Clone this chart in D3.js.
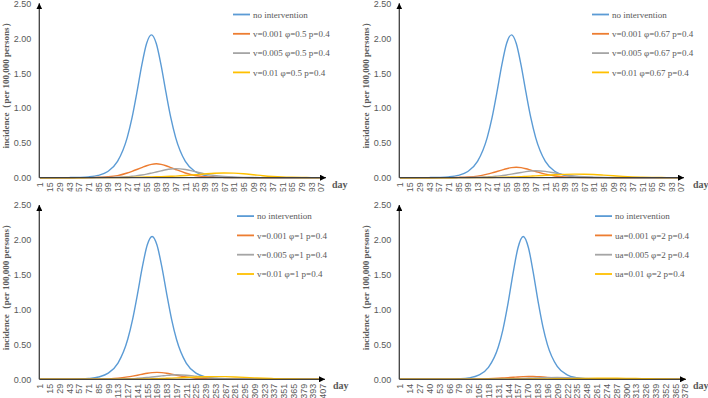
<!DOCTYPE html>
<html><head><meta charset="utf-8"><title>Incidence under vaccination scenarios</title>
<script src="https://cdnjs.cloudflare.com/ajax/libs/d3/7.8.5/d3.min.js"></script>
<style>
    body {
        margin: 0;
        background: #fff;
    }
    svg {
        display: block;
        font-family: 'Liberation Serif', 'Times New Roman', serif;
    }
</style>
</head>
<body>
<svg id="chart" width="708" height="398"></svg>

<script>
// sample days (panels 1-3) and values
const days = [1, 15, 29, 43, 57, 71, 85, 99, 113, 127, 134, 141, 148, 155, 162, 169, 176, 183, 190, 197,
    211, 225, 239, 253, 267, 281, 295, 309, 323, 337, 351, 365, 379, 393, 407];

const noIntervention = [0.0001, 0.0002, 0.0006, 0.0017, 0.0045, 0.012, 0.033, 0.089, 0.233, 0.575,
    0.861, 1.223, 1.612, 1.927, 2.05, 1.927, 1.612, 1.223, 0.861, 0.575,
    0.233, 0.089, 0.033, 0.012, 0.0045, 0.0017, 0.0006, 0.0002, 0.0001, 0, 0, 0, 0, 0, 0];

// phi = 0.5
const p1Low = [0, 0, 0, 0.0002, 0.0005, 0.0012, 0.006, 0.013, 0.03, 0.068,
    0.092, 0.118, 0.145, 0.172, 0.192, 0.2, 0.192, 0.172, 0.145, 0.118,
    0.068, 0.032, 0.015, 0.007, 0.0035, 0.0015, 0.0007, 0.0003, 0.0001, 0, 0, 0, 0, 0, 0];
const p1Mid = [0, 0, 0, 0.0002, 0.0004, 0.001, 0.002, 0.004, 0.008, 0.015,
    0.02, 0.029, 0.039, 0.051, 0.066, 0.082, 0.098, 0.114, 0.125, 0.13,
    0.118, 0.087, 0.055, 0.031, 0.017, 0.009, 0.0045, 0.002, 0.001, 0.0005, 0.0002, 0, 0, 0, 0];
const p1High = [0, 0, 0, 0.0001, 0.0002, 0.0004, 0.0006, 0.0008, 0.0015, 0.003,
    0.0042, 0.0056, 0.0073, 0.0092, 0.0113, 0.0135, 0.0158, 0.0182, 0.0207, 0.0233,
    0.031, 0.042, 0.054, 0.064, 0.068, 0.065, 0.056, 0.043, 0.029, 0.018, 0.010, 0.0055, 0.003, 0.0018, 0.001];

// phi = 0.67
const p2Low = [0, 0, 0, 0.00015, 0.0004, 0.0009, 0.0045, 0.01, 0.023, 0.051,
    0.069, 0.089, 0.109, 0.129, 0.144, 0.15, 0.144, 0.129, 0.109, 0.089,
    0.051, 0.024, 0.011, 0.005, 0.0026, 0.0011, 0.0005, 0.0002, 0.0001, 0, 0, 0, 0, 0, 0];
const p2Mid = [0, 0, 0, 0.00015, 0.0003, 0.0008, 0.0015, 0.003, 0.006, 0.012,
    0.015, 0.022, 0.03, 0.039, 0.051, 0.063, 0.075, 0.088, 0.096, 0.1,
    0.091, 0.067, 0.042, 0.024, 0.013, 0.007, 0.0035, 0.0015, 0.0008, 0.0004, 0.0002, 0, 0, 0, 0];
const p2High = [0, 0, 0, 0.0001, 0.0002, 0.0003, 0.0005, 0.0008, 0.0013, 0.002,
    0.0028, 0.004, 0.0055, 0.0075, 0.0098, 0.0125, 0.0155, 0.019, 0.0225, 0.026,
    0.034, 0.042, 0.048, 0.051, 0.05, 0.045, 0.037, 0.028, 0.019, 0.012, 0.007, 0.004, 0.0022, 0.0012, 0.0008];

// phi = 1
const p3Low = [0, 0, 0, 0.0001, 0.0003, 0.0006, 0.003, 0.0065, 0.015, 0.034,
    0.046, 0.059, 0.073, 0.086, 0.096, 0.1, 0.096, 0.086, 0.073, 0.059,
    0.034, 0.016, 0.0075, 0.0035, 0.0018, 0.0008, 0.0004, 0.0002, 0.0001, 0, 0, 0, 0, 0, 0];
const p3Mid = [0, 0, 0, 0.0001, 0.0002, 0.0005, 0.001, 0.002, 0.004, 0.0075,
    0.01, 0.0145, 0.0195, 0.026, 0.033, 0.041, 0.049, 0.057, 0.0625, 0.065,
    0.059, 0.044, 0.028, 0.016, 0.0085, 0.0045, 0.0022, 0.001, 0.0005, 0.0002, 0.0001, 0, 0, 0, 0];
const p3High = [0, 0, 0, 0, 0.0001, 0.0002, 0.0004, 0.0006, 0.001, 0.0018,
    0.0024, 0.0032, 0.0043, 0.0058, 0.0077, 0.0098, 0.012, 0.0145, 0.017, 0.0198,
    0.026, 0.032, 0.037, 0.039, 0.038, 0.034, 0.028, 0.021, 0.015, 0.01, 0.0062, 0.0038, 0.0022, 0.0012, 0.0008];

// panel 4 has its own day grid
const days4 = [1, 14, 27, 40, 53, 66, 79, 92, 105, 118, 131, 137, 144, 151, 157, 164, 171, 177, 184, 190, 196,
    209, 222, 235, 248, 261, 274, 287, 300, 313, 326, 339, 352, 365, 378];
const noIntervention4 = [0, 0.00003, 0.0001, 0.0003, 0.0008, 0.0023, 0.0069, 0.020, 0.059, 0.170,
    0.463, 0.707, 1.097, 1.55, 1.885, 2.05, 1.885, 1.55, 1.097, 0.757, 0.498,
    0.184, 0.064, 0.022, 0.0075, 0.0025, 0.0009, 0.0003, 0.0001, 0, 0, 0, 0, 0, 0];
const p4Low = [0, 0, 0, 0.0001, 0.0003, 0.0006, 0.0012, 0.0023, 0.0045, 0.0084,
    0.015, 0.019, 0.024, 0.029, 0.034, 0.038, 0.040, 0.040, 0.037, 0.034, 0.028,
    0.018, 0.010, 0.0055, 0.0028, 0.0014, 0.0007, 0.0003, 0.0001, 0, 0, 0, 0, 0, 0];
const p4Mid = [0, 0, 0, 0, 0.0001, 0.0002, 0.0004, 0.0007, 0.0012, 0.002,
    0.0035, 0.0045, 0.0058, 0.0075, 0.0094, 0.0115, 0.0148, 0.017, 0.020, 0.022, 0.024,
    0.025, 0.0217, 0.0165, 0.011, 0.0071, 0.0043, 0.0025, 0.0014, 0.0008, 0.0004, 0.0002, 0.0001, 0, 0];
const p4High = [0, 0, 0, 0, 0, 0, 0, 0.0001, 0.0002, 0.0004,
    0.0008, 0.001, 0.0013, 0.0016, 0.002, 0.0025, 0.003, 0.0035, 0.0042, 0.0048, 0.0055,
    0.007, 0.0088, 0.0107, 0.0125, 0.014, 0.0148, 0.0145, 0.0132, 0.011, 0.0085, 0.006, 0.004, 0.0025, 0.0015];

// tick labels
const dayTicks = [1, 15, 29, 43, 57, 71, 85, 99, 113, 127, 141, 155, 169, 183, 197, 211, 225, 239, 253, 267,
    281, 295, 309, 323, 337, 351, 365, 379, 393, 407];
const dayTicks4 = [1, 14, 27, 40, 53, 66, 79, 92, 105, 118, 131, 144, 157, 170, 183, 196, 209, 222, 235, 248,
    261, 274, 287, 300, 313, 326, 339, 352, 365, 378];
const yTicks = [0, 0.5, 1, 1.5, 2, 2.5];

const legend1 = ["no intervention", "v=0.001 φ=0.5 p=0.4", "v=0.005 φ=0.5 p=0.4", "v=0.01 φ=0.5 p=0.4"];
const legend2 = ["no intervention", "v=0.001 φ=0.67 p=0.4", "v=0.005 φ=0.67 p=0.4", "v=0.01 φ=0.67 p=0.4"];
const legend3 = ["no intervention", "v=0.001 φ=1 p=0.4", "v=0.005 φ=1 p=0.4", "v=0.01 φ=1 p=0.4"];
const legend4 = ["no intervention", "ua=0.001 φ=2 p=0.4", "ua=0.005 φ=2 p=0.4", "ua=0.01 φ=2 p=0.4"];

const colors = ["#5B9BD5", "#ED7D31", "#A5A5A5", "#FFC000"];
const textColor = "#595959";

const panels = [
    {ox: 0, oy: 0, axisX: 39.3, x0: 40, x1: 321, arrowX: 326, legendX: 233, titleX: 6, dayX: 332, clip: 191.5,
        ticks: dayTicks, days: days, series: [noIntervention, p1Low, p1Mid, p1High], names: legend1},
    {ox: 350, oy: 0, axisX: 49.3, x0: 50, x1: 331, arrowX: 334, legendX: 242, titleX: 15.7, dayX: 343, clip: 191.5,
        ticks: dayTicks, days: days, series: [noIntervention, p2Low, p2Mid, p2High], names: legend2},
    {ox: 0, oy: 201.6, axisX: 39.3, x0: 40, x1: 322.7, arrowX: 325, legendX: 237, titleX: 6, dayX: 333, clip: null,
        ticks: dayTicks, days: days, series: [noIntervention, p3Low, p3Mid, p3High], names: legend3},
    {ox: 350, oy: 201.6, axisX: 49.3, x0: 50, x1: 335, arrowX: 336, legendX: 245, titleX: 15.7, dayX: 343, clip: null,
        ticks: dayTicks4, days: days4, series: [noIntervention4, p4Low, p4Mid, p4High], names: legend4}
];

const svg = d3.select("#chart");
const defs = svg.append("defs");

defs.append("marker")
    .attr("id", "arrow")
    .attr("viewBox", "0 0 10 10")
    .attr("refX", 10).attr("refY", 5)
    .attr("markerWidth", 6).attr("markerHeight", 6)
    .attr("markerUnits", "userSpaceOnUse")
    .attr("orient", "auto")
    .append("path")
    .attr("d", "M0,0L10,5L0,10z")
    .attr("fill", "#000");

panels.forEach((p, i) => {
    const g = svg.append("g").attr("transform", `translate(${p.ox},${p.oy})`);

    const x = d3.scaleLinear().domain([p.ticks[0], p.ticks[p.ticks.length - 1]]).range([p.x0, p.x1]);
    const y = d3.scaleLinear().domain([0, 2.5]).range([177.7, 3.5]);

    // y tick labels
    const yAxis = g.append("g")
        .attr("transform", `translate(${p.axisX},0)`)
        .call(d3.axisLeft(y).tickValues(yTicks).tickFormat(d3.format(".2f")).tickSize(0).tickPadding(8));
    yAxis.select(".domain").remove();
    yAxis.selectAll("text")
        .attr("font-family", null)
        .style("font-size", "9px")
        .attr("fill", textColor);

    // x tick labels, rotated; top panels cut the long ones like the original
    const xWrap = g.append("g");
    if (p.clip) {
        defs.append("clipPath")
            .attr("id", "clip" + i)
            .append("rect")
            .attr("x", -5).attr("y", -5).attr("width", 360).attr("height", p.clip + 5);
        xWrap.attr("clip-path", `url(#clip${i})`);
    }
    const xAxis = xWrap.append("g")
        .attr("transform", `translate(0,${y(0)})`)
        .call(d3.axisBottom(x).tickValues(p.ticks).tickFormat(d3.format("d")).tickSize(0));
    xAxis.select(".domain").remove();
    xAxis.selectAll("text")
        .attr("font-family", null)
        .style("font-size", "9px")
        .attr("fill", textColor)
        .attr("transform", "rotate(-90)")
        .attr("x", -4.5)
        .attr("y", 0)
        .attr("dy", "0.33em")
        .style("text-anchor", "end");

    // series
    const line = d3.line()
        .x(d => x(d[0]))
        .y(d => y(d[1]))
        .curve(d3.curveMonotoneX);

    p.series.forEach((vals, k) => {
        const pts = p.days.map((d, j) => [d, vals[j]]);
        g.append("path")
            .datum(pts)
            .attr("fill", "none")
            .attr("stroke", colors[k])
            .attr("stroke-width", 1.4)
            .attr("d", line);
    });

    // axes with arrows
    g.append("line")
        .attr("x1", p.axisX).attr("y1", y(0))
        .attr("x2", p.arrowX).attr("y2", y(0))
        .attr("stroke", "#404040").attr("stroke-width", 1.3)
        .attr("marker-end", "url(#arrow)");
    g.append("line")
        .attr("x1", p.axisX).attr("y1", y(0))
        .attr("x2", p.axisX).attr("y2", 3.3)
        .attr("stroke", "#404040").attr("stroke-width", 1.3)
        .attr("marker-end", "url(#arrow)");

    // axis titles
    g.append("text")
        .attr("transform", `translate(${p.titleX},${83.5}) rotate(-90)`)
        .attr("text-anchor", "middle")
        .attr("dy", "0.35em")
        .attr("font-size", 9)
        .attr("font-weight", "bold")
        .attr("fill", textColor)
        .text("incidence（per 100,000 persons）");

    g.append("text")
        .attr("x", p.dayX)
        .attr("y", y(0) + 10)
        .attr("font-size", 10)
        .attr("font-weight", "bold")
        .attr("fill", textColor)
        .text("day");

    // legend
    const leg = g.append("g").attr("transform", `translate(${p.legendX},14.5)`);
    p.names.forEach((name, k) => {
        const row = leg.append("g").attr("transform", `translate(0,${k * 19.3})`);
        row.append("line")
            .attr("x1", 0).attr("x2", 17)
            .attr("stroke", colors[k]).attr("stroke-width", 1.8);
        row.append("text")
            .attr("x", 20).attr("dy", "0.35em")
            .attr("font-size", 9)
            .attr("fill", textColor)
            .text(name);
    });
});
</script>
</body>
</html>
